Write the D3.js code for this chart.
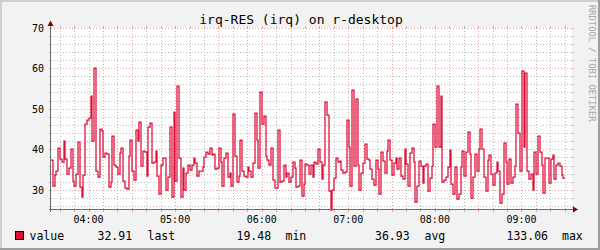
<!DOCTYPE html>
<html>
<head>
<meta charset="utf-8">
<script src="https://cdn.jsdelivr.net/npm/d3@7"></script>
<style>
body { margin: 0; background: #fff; }
svg { display: block; }
text { font-family: "DejaVu Sans Mono", monospace; }
</style>
</head>
<body>
<svg id="chart" width="600" height="250"></svg>
<script>
// Series: irq-RES, one sample every 75 s starting 03:34
const startTime = new Date(2024, 0, 1, 3, 34, 0);
const stepSeconds = 75;
const values = [
    37.5, 31, 33.8, 34.9, 40.4, 37.7, 36.9, 42.1, 37.7, 34, 35.4, 40.1, 32.3, 31, 34, 42, 30.9, 28.5, 33.8, 46.3,
    47.3, 47.8, 53.2, 42.1, 60.1, 34.7, 33.3, 45.1, 44.6, 38.3, 39.1, 39, 30.9, 32.1, 43.3, 36.3, 35.8, 34, 39.2, 40.4,
    32.3, 30.5, 30.4, 38.4, 42.4, 34.9, 32.5, 44.8, 42.1, 46.8,
    36.1, 39.7, 39.5, 33.6, 45.7, 46.7, 36.7, 36.9, 39.7, 33.6, 29, 36.2, 37.9, 37.9, 30.2, 33.2, 45.6, 28.5, 49.2, 32.3,
    55.6, 37.9, 28.3, 35.4, 30, 34.2, 36.3, 35.1, 36.3, 38.1, 36.7, 33.6, 34.9, 34.9, 35.8, 38.3, 39.4, 39, 40.5, 38.6,
    39, 35.3, 35.6, 40.4, 36.9, 31,
    37.9, 39.2, 33.3, 34.4, 31, 48.8, 38.4, 32.1, 33.6, 42.3, 34.7, 33.6, 33.4, 35.8, 34.7, 33.2, 36.7, 49.1, 42.4, 35.6,
    54.2, 46.4, 48.3, 38.4, 37.4, 36.2, 40.4, 32.5, 30.5, 30.7, 44.8, 32, 32.3, 36.2, 33.4, 34.4, 32, 33.3, 37.1, 35.4,
    30.9, 31.2, 37.6, 28.7, 31.7, 36.4, 36.3, 34,
    36.2, 33.4, 36.9, 36.4, 40.2, 36.9, 32.7, 36.3, 51.7, 48.6, 29.9, 25.3, 30.2, 33, 37.9, 37.1, 37.3, 35.1, 34.2, 34.6,
    47.4, 40.7, 31.2, 54.7, 36.1, 52.5, 36.3, 30, 34.3, 36.7, 41.4, 37.7, 37.6, 35.3, 32.7, 31.4, 37.4, 35.3, 29, 39.5,
    37.3, 34.2, 39.7, 42.3, 37.4, 33.8, 36.7, 37.9,
    35.3, 37.9, 33.6, 32.7, 40.2, 36.4, 31, 39.2, 40.4, 36.9, 27.1, 31, 37.3, 36.1, 31.8, 36.1, 36.6, 29.9, 33, 36.1,
    46.4, 40.7, 55.6, 40.7, 53.3, 32.1, 32.5, 33.3, 35.8, 39.9, 31.7, 29, 35.8, 28, 29.2, 35.8, 39.7, 33.6, 39.4, 44.4,
    39, 28.1, 33.2, 38.9, 34.7, 40.2, 45.1, 40.2,
    33.3, 29.9, 37.6, 38.6, 34, 31.4, 34.3, 36.9, 34.7, 26.8, 29.2, 41.8, 36.9, 31.5, 37.7, 31.8, 33.3, 36.1, 51.3, 44.1,
    34.7, 59.3, 40.7, 58.8, 34.9, 32.8, 34, 30, 39.4, 34, 43.3, 39.5, 36.2, 29.3, 37.9, 38.1, 31.8, 37.7, 38.7, 32.8,
    36.2, 36.7, 36.1, 33.8, 33
];

const timeDomain = [new Date(2024, 0, 1, 3, 34, 0), new Date(2024, 0, 1, 9, 35, 0)];
const valueDomain = [25.3, 70];
const yLabels = [30, 40, 50, 60, 70];
const title = "irq-RES (irq) on r-desktop";
const watermark = "RRDTOOL / TOBI OETIKER";
const legendTexts = ["value", "32.91", "last", "19.48", "min", "36.93", "avg", "133.06", "max"];

// layout
const W = 600, H = 250;
const pLeft = 51, pRight = 572, pTop = 28, pBottom = 210;
const legendX = [29.5, 97.5, 147.5, 236.5, 285.5, 375, 424.5, 506.5, 562];

const lineColor = "#e00c36";
const gridColor = "rgba(143,143,143,0.6)";
const mgridColor = "rgba(222,79,79,0.5)";
const axisColor = "#6e6e6e";
const arrowColor = "#800000";

const svg = d3.select("#chart");

// background + 3d frame
svg.append("rect").attr("width", W).attr("height", H).attr("fill", "#f2f2f2");
svg.append("path").attr("d", `M0,0H${W}V2H2V${H}H0Z`).attr("fill", "#cfcfcf");
svg.append("path").attr("d", `M${W},${H}H0V${H - 2}H${W - 2}V0H${W}Z`).attr("fill", "#9e9e9e");

svg.append("rect")
    .attr("x", pLeft).attr("y", pTop)
    .attr("width", pRight - pLeft).attr("height", pBottom - pTop)
    .attr("fill", "#ffffff");

const x = d3.scaleTime().domain(timeDomain).range([pLeft, pRight]);
const y = d3.scaleLinear().domain(valueDomain).range([pBottom - 0.5, pTop]);

const crisp = v => Math.round(v) + 0.5;

// grid
const grid = svg.append("g").attr("shape-rendering", "crispEdges");

const minorT = x.ticks(d3.timeMinute.every(10)).filter(d => d.getMinutes() % 30 !== 0);
const majorT = x.ticks(d3.timeMinute.every(30));
const minorV = d3.range(26, 71, 2).filter(v => v % 10 !== 0);
const majorV = d3.range(30, 71, 10);

function vGrid(ticks, color) {
    ticks.forEach(t => {
        const xx = crisp(x(t));
        grid.append("line").attr("x1", xx).attr("x2", xx).attr("y1", pTop).attr("y2", pBottom)
            .attr("stroke", color).attr("stroke-dasharray", "1,2");
        grid.append("line").attr("x1", xx).attr("x2", xx).attr("y1", pBottom).attr("y2", pBottom + 2)
            .attr("stroke", color);
        grid.append("line").attr("x1", xx).attr("x2", xx).attr("y1", pTop - 2).attr("y2", pTop)
            .attr("stroke", color);
    });
}
function hGrid(vals, color) {
    vals.forEach(v => {
        const yy = crisp(y(v) - 0.5);
        grid.append("line").attr("x1", pLeft).attr("x2", pRight).attr("y1", yy).attr("y2", yy)
            .attr("stroke", color).attr("stroke-dasharray", "1,2");
        grid.append("line").attr("x1", pLeft - 2).attr("x2", pLeft).attr("y1", yy).attr("y2", yy)
            .attr("stroke", color);
        grid.append("line").attr("x1", pRight).attr("x2", pRight + 2).attr("y1", yy).attr("y2", yy)
            .attr("stroke", color);
    });
}
vGrid(minorT, gridColor);
hGrid(minorV, gridColor);
vGrid(majorT, mgridColor);
hGrid(majorV, mgridColor);

// data line
const points = values.map((v, i) => ({ t: new Date(startTime.getTime() + i * stepSeconds * 1000), v: v }));
points.push({ t: new Date(startTime.getTime() + values.length * stepSeconds * 1000), v: values[values.length - 1] });

const line = d3.line()
    .x(d => Math.round(x(d.t)))
    .y(d => Math.round(y(d.v)))
    .curve(d3.curveStepAfter);

svg.append("path")
    .datum(points)
    .attr("d", line)
    .attr("fill", "none")
    .attr("stroke", lineColor)
    .attr("stroke-width", 1.25);

// axes
svg.append("line").attr("x1", pLeft - 0.5).attr("x2", pLeft - 0.5).attr("y1", pBottom + 2).attr("y2", pTop - 4)
    .attr("stroke", axisColor).attr("shape-rendering", "crispEdges");
svg.append("line").attr("x1", pLeft - 2).attr("x2", pRight + 2).attr("y1", pBottom - 0.5).attr("y2", pBottom - 0.5)
    .attr("stroke", axisColor).attr("shape-rendering", "crispEdges");
svg.append("path").attr("d", `M${pLeft - 3.5},${pTop - 2}L${pLeft - 0.5},${pTop - 7.5}L${pLeft + 2.5},${pTop - 2}Z`)
    .attr("fill", arrowColor);
svg.append("path").attr("d", `M${pRight + 1},${pBottom - 3.5}L${pRight + 6},${pBottom - 0.5}L${pRight + 1},${pBottom + 2.5}Z`)
    .attr("fill", arrowColor);

// y labels
svg.selectAll(".ylab").data(yLabels).enter().append("text")
    .attr("x", 44).attr("y", d => y(d) + 3.5)
    .attr("text-anchor", "end").attr("font-size", "10px").attr("fill", "#000")
    .text(d => d);

// x labels
svg.selectAll(".xlab").data(x.ticks(d3.timeHour.every(1))).enter().append("text")
    .attr("x", d => x(d)).attr("y", 223)
    .attr("text-anchor", "middle").attr("font-size", "10px").attr("fill", "#000")
    .text(d3.timeFormat("%H:%M"));

// title
svg.append("text").attr("x", 301).attr("y", 23.5).attr("text-anchor", "middle")
    .attr("font-size", "13px").attr("fill", "#000").text(title);

// watermark
svg.append("text").attr("transform", "translate(588.5,5) rotate(90)")
    .attr("font-size", "8.8px").attr("fill", "#a8a8a8").text(watermark);

// legend
svg.append("rect").attr("x", 15.5).attr("y", 231.5).attr("width", 8).attr("height", 8)
    .attr("fill", lineColor).attr("stroke", "#000").attr("stroke-width", 1);
svg.selectAll(".leg").data(legendTexts).enter().append("text")
    .attr("x", (d, i) => legendX[i]).attr("y", 239.5)
    .attr("font-size", "11.5px").attr("fill", "#000")
    .text(d => d);
</script>
</body>
</html>
